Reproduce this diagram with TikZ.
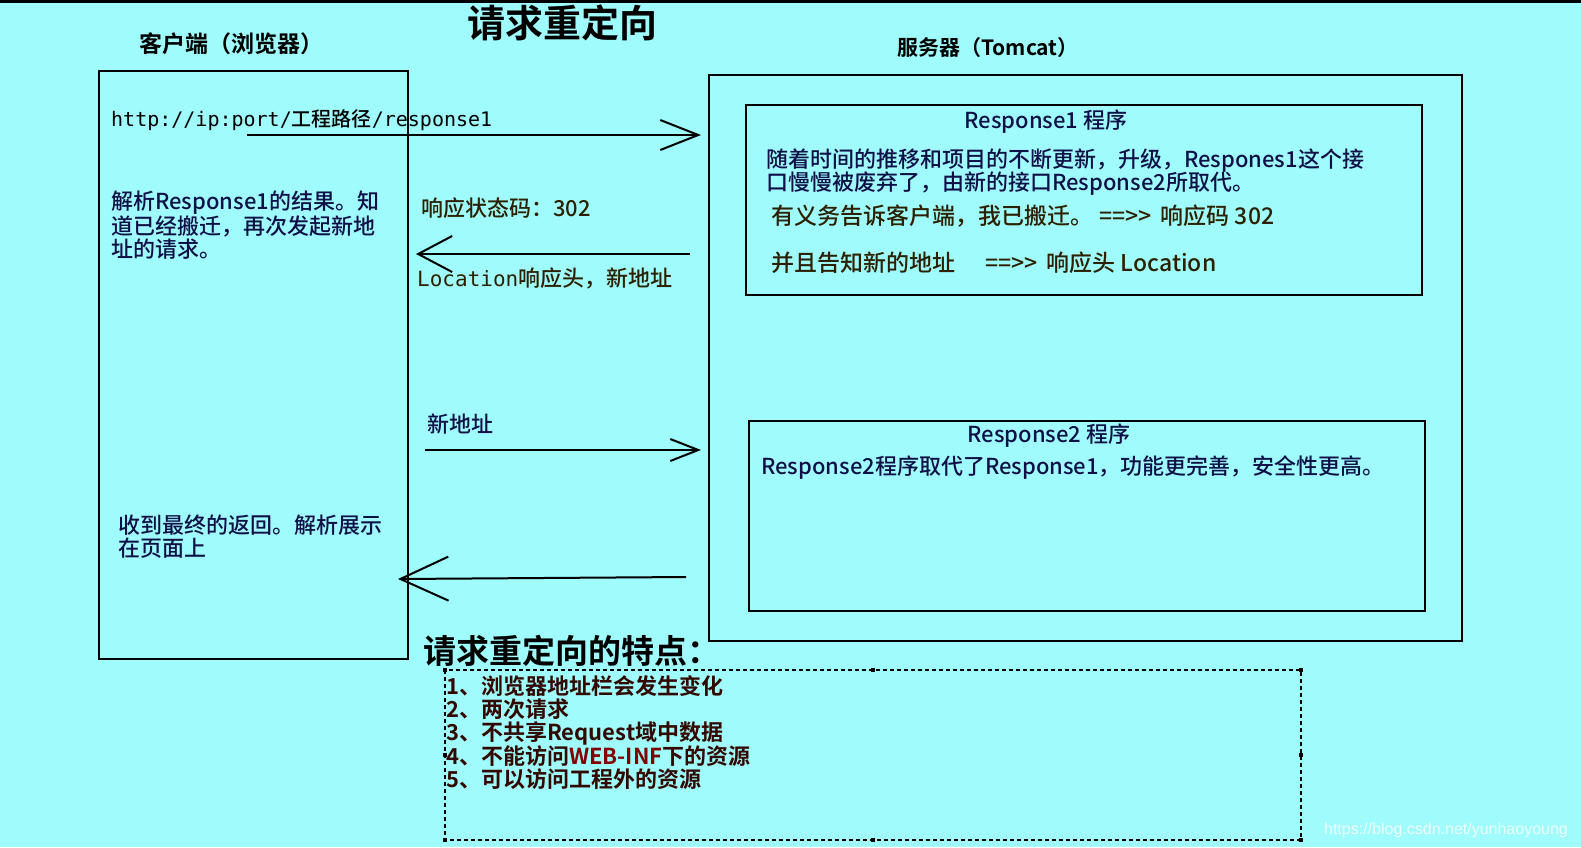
\documentclass[tikz,border=0pt]{standalone}
\usepackage{fontspec}
\setmainfont{Noto Sans CJK SC}[UprightFont={* Medium},BoldFont={* Bold}]
\setmonofont{DejaVu Sans Mono}
\newfontfamily\wmfont{Liberation Sans}
\usetikzlibrary{arrows.meta}
\definecolor{bg}{RGB}{160,252,252}
\definecolor{navy}{RGB}{16,16,72}
\definecolor{olivetxt}{RGB}{44,32,0}
\definecolor{redtxt}{RGB}{50,8,0}
\definecolor{webred}{RGB}{130,0,0}
\tikzset{
  box/.style={draw=black, line width=2.5pt},
  lbl/.style={anchor=west, inner sep=0pt, align=left, font=\fontsize{22}{23}\selectfont},
  ctr/.style={anchor=center, inner sep=0pt, font=\fontsize{22}{23}\selectfont},
  msg/.style={line width=2pt, draw=black},
  handle/.style={fill=black, minimum size=4pt, inner sep=0pt},
}
\begin{document}
\begin{tikzpicture}[x=1pt,y=-1pt]
\useasboundingbox (0,0) rectangle (1581,847);
\fill[bg] (0,0) rectangle (1581,847);
\fill[black] (0,0) rectangle (1581,3);

% titles
\node[ctr, font=\fontsize{38}{40}\selectfont\bfseries] (title) at (562,23) {请求重定向};
\node[ctr, font=\fontsize{23}{24}\selectfont\bfseries] (clientT) at (231,44) {客户端（浏览器）};
\node[ctr, font=\fontsize{21}{23}\selectfont\bfseries] (serverT) at (988,48) {服务器（Tomcat）};

% boxes
\draw[box] (99,71) rectangle (408,659);
\draw[box] (709,75) rectangle (1462,641);
\draw[box] (746,105) rectangle (1422,295);
\draw[box] (749,421) rectangle (1425,611);

% Response1 box text
\node[ctr, text=navy] (r1t) at (1046,122) {Response1 程序};
\node[lbl, text=navy] (r1a) at (766,161) {随着时间的推移和项目的不断更新，升级，Respones1这个接};
\node[lbl, text=navy] (r1b) at (766,184) {口慢慢被废弃了，由新的接口Response2所取代。};
\node[lbl, text=olivetxt, font=\fontsize{23}{23}\selectfont] (r1c) at (771,216) {有义务告诉客户端，我已搬迁。\hspace{6pt}=={>}{>}\hspace{4pt} 响应码 302};
\node[lbl, text=olivetxt, font=\fontsize{23}{23}\selectfont] (r1d) at (771,263) {并且告知新的地址\hspace{30pt}=={>}{>}\hspace{4pt} 响应头 Location};

% Response2 box text
\node[ctr, text=navy] (r2t) at (1049,436) {Response2 程序};
\node[lbl, text=navy] (r2a) at (761,468) {Response2程序取代了Response1，功能更完善，安全性更高。};

% client texts
\node[lbl, font=\fontsize{20}{23}\selectfont] (url) at (111,120) {{\ttfamily http://ip:port/}工程路径{\ttfamily /response1}};
\node[lbl, text=navy, anchor=north west] (parse) at (111,191) {解析Response1的结果。知\\道已经搬迁，再次发起新地\\址的请求。};
\node[lbl, text=navy, anchor=north west] (final) at (118,515) {收到最终的返回。解析展示\\在页面上};

% arrow labels
\node[lbl, text=olivetxt] (code) at (421,208) {响应状态码：302};
\node[lbl, text=olivetxt] (loc) at (417,278) {{\ttfamily\fontsize{21}{23}\selectfont Location}响应头，新地址};
\node[lbl, text=navy] (newaddr) at (427,424) {新地址};

% arrows
\coordinate (a1s) at (247,135);
\coordinate (a1e) at (701,135);
\coordinate (a2s) at (690,254);
\coordinate (a2e) at (416,254);
\coordinate (a3s) at (425,450);
\coordinate (a3e) at (701,450);
\coordinate (a4s) at (686,577);
\coordinate (a4e) at (398,579);
\draw[msg, -{Straight Barb[length=38pt,width=30pt,line width=2pt]}] (a1s) -- (a1e);
\draw[msg, -{Straight Barb[length=34pt,width=36pt,line width=2pt]}] (a2s) -- (a2e);
\draw[msg, -{Straight Barb[length=28pt,width=22pt,line width=2pt]}] (a3s) -- (a3e);
\draw[msg, -{Straight Barb[length=48pt,width=44pt,line width=2pt]}] (a4s) -- (a4e);

% features
\node[lbl, font=\fontsize{33}{34}\selectfont\bfseries] (featT) at (423,651) {请求重定向的特点：};
\draw[line width=1.6pt, dash pattern=on 4pt off 3pt] (445,670) rectangle (1301,840);
\foreach \p [count=\i] in {(445,670),(873,670),(1301,670),(445,755),(1301,755),(445,840),(873,840),(1301,840)}
  \node[handle] (h\i) at \p {};
\node[lbl, text=redtxt, anchor=north west, font=\fontsize{22}{23}\selectfont\bfseries] (feat) at (446,675)
  {1、浏览器地址栏会发生变化\\2、两次请求\\3、不共享Request域中数据\\4、不能访问{\color{webred}WEB-INF}下的资源\\5、可以访问工程外的资源};

% watermark
\node[ctr, text=white, opacity=0.8, font=\fontsize{16}{17}\selectfont\wmfont] (wm) at (1446,830) {https://blog.csdn.net/yunhaoyoung};
\end{tikzpicture}
\end{document}
